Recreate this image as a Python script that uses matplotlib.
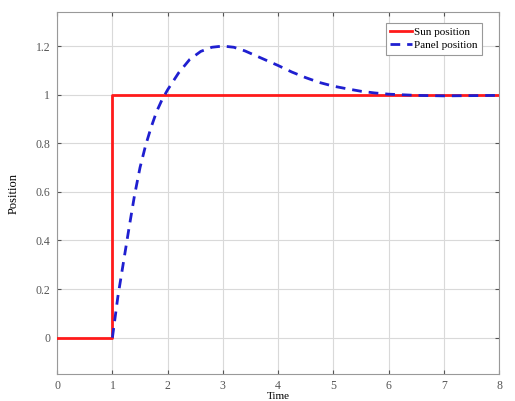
import numpy as np
import matplotlib
matplotlib.use("Agg")
import matplotlib.pyplot as plt

# ── data ─────────────────────────────────────────────────────────────────────
sun_t   = [0, 1, 1, 8]
sun_pos = [0, 0, 1, 1]

panel_t   = [1.0, 1.1, 1.2, 1.3, 1.4, 1.5, 1.6, 1.7, 1.8, 1.9, 2.0, 2.2, 2.4,
             2.6, 2.8, 3.0, 3.2, 3.4, 3.6, 3.8, 4.0, 4.25, 4.5, 4.75, 5.0,
             5.25, 5.5, 5.75, 6.0, 6.5, 7.0, 7.5, 8.0]
panel_pos = [0.0, 0.17, 0.31, 0.45, 0.585, 0.70, 0.79, 0.865, 0.93, 0.98, 1.02,
             1.09, 1.145, 1.178, 1.195, 1.2, 1.195, 1.18, 1.16, 1.14, 1.12,
             1.093, 1.07, 1.05, 1.035, 1.024, 1.014, 1.007, 1.002, 0.997,
             0.995, 0.996, 0.997]

x_ticks = [0, 1, 2, 3, 4, 5, 6, 7, 8]
y_ticks = [0, 0.2, 0.4, 0.6, 0.8, 1.0, 1.2]
y_tick_labels = ["0", "0.2", "0.4", "0.6", "0.8", "1", "1.2"]

# ── figure ───────────────────────────────────────────────────────────────────
plt.rcParams["font.family"] = ["Liberation Serif", "DejaVu Serif"]
fig = plt.figure(figsize=(5.15, 4.01), dpi=100)
ax = fig.add_axes([0.111, 0.067, 0.858, 0.903])

ax.plot(sun_t, sun_pos, color="#ff1a1a", lw=2, label="Sun position", zorder=3)
ax.plot(panel_t, panel_pos, color="#1f1fd0", lw=2, ls=(0, (3.5, 2.5)),
        label="Panel position", zorder=4)

ax.set_xlim(0, 8)
ax.set_ylim(-0.15, 1.34)
ax.set_xticks(x_ticks)
ax.set_yticks(y_ticks)
ax.set_yticklabels(y_tick_labels)
ax.tick_params(direction="in", top=True, right=True, labelsize=8.5,
               colors="#555555", length=3)
ax.tick_params(axis="x", pad=4)
ax.tick_params(axis="y", pad=5)
ax.grid(True, color="#d9d9d9", lw=0.8)
for sp in ax.spines.values():
    sp.set_color("#999999")
    sp.set_linewidth(0.8)

ax.set_ylabel("Position", fontsize=9)
ax.set_xlabel("Time", fontsize=8, va="top")
ax.xaxis.set_label_coords(0.5, -0.049)
ax.yaxis.set_label_coords(-0.085, 0.5)

leg = ax.legend(loc="upper right", fontsize=8, handlelength=2.0,
                handletextpad=0.2, borderpad=0.4, labelspacing=0.3,
                fancybox=False, framealpha=1, edgecolor="#999999",
                bbox_to_anchor=(0.975, 0.985))
leg.get_frame().set_linewidth(0.8)

plt.savefig("out.png", dpi=100)
plt.close()
